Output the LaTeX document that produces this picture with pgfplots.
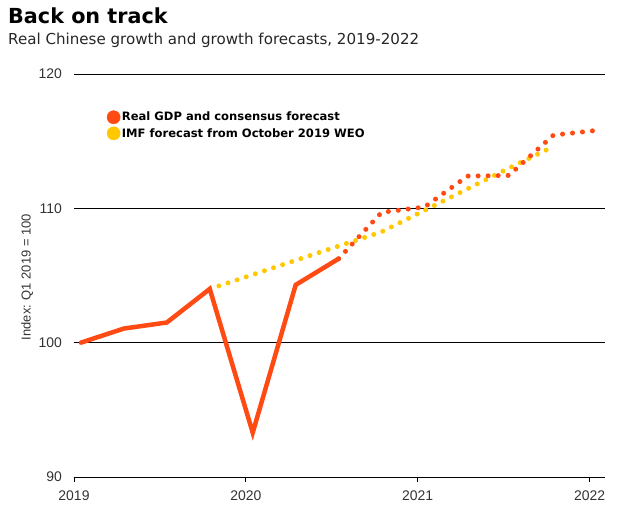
\documentclass[border=0pt]{standalone}
\usepackage{fontspec}
\setmainfont{Liberation Sans}
\newfontfamily\dejavu{DejaVu Sans}
\usepackage{pgfplots}
\pgfplotsset{compat=1.18}
\definecolor{gdpred}{HTML}{FF4A14}
\definecolor{imfyel}{HTML}{FFC800}
\definecolor{ticktxt}{HTML}{333333}

\begin{document}
\begin{tikzpicture}[x=1bp,y=1bp]
\begin{axis}[
  at={(0,0)}, anchor=south west,
  scale only axis, width=531bp, height=403bp,
  xmin=2019, xmax=2022.09, ymin=90, ymax=120,
  axis lines=left,
  axis line style={-},
  y axis line style={draw=none},
  x axis line style={black, line width=0.9bp},
  xtick={2019,2020,2021,2022},
  xticklabels={2019,2020,2021,2022},
  ytick={90,100,110,120},
  xtick align=outside,
  major tick length=5bp,
  ytick style={draw=none},
  xtick style={black, line width=0.8bp},
  ymajorgrids,
  grid style={black, line width=0.9bp},
  /pgf/number format/assume math mode=true,
  tick label style={font=\fontsize{14}{16}\selectfont, color=ticktxt},
  yticklabel style={xshift=-6bp},
  xticklabel style={yshift=-5bp},
  ylabel={Index: Q1 2019 = 100},
  ylabel style={at={(axis description cs:-0.088,0.496)}, anchor=center, font=\fontsize{13}{15}\selectfont, color=ticktxt},
  legend style={draw=none, fill=none, at={(axis cs:2019.19,117.3)}, anchor=north west,
    inner sep=0pt, row sep=2.5bp, font=\dejavu\bfseries\fontsize{11.6}{14}\selectfont,
    nodes={inner xsep=1.5bp, inner ysep=1bp}},
  legend cell align=left,
  clip=false,
]
\addlegendimage{legend image code/.code={\fill[gdpred] (0bp,0bp) circle (6.6bp);}}
\addlegendentry{Real GDP and consensus forecast}
\addlegendimage{legend image code/.code={\fill[imfyel] (0bp,0bp) circle (6.6bp);}}
\addlegendentry{IMF forecast from October 2019 WEO}

% IMF forecast (dotted yellow)
\addplot[forget plot, imfyel, line width=5bp, line cap=round, dash pattern=on 0bp off 9.6bp]
  coordinates {(2019.79,104.0) (2020.04,105.06) (2020.29,106.13) (2020.54,107.19)
    (2020.79,108.25) (2021.04,109.85) (2021.29,111.45) (2021.54,113.05) (2021.79,114.6)};

% Consensus forecast (dotted red)
\addplot[forget plot, gdpred, line width=5bp, line cap=round, dash pattern=on 0bp off 10bp]
  coordinates {(2020.54,106.25) (2020.79,109.7) (2021.04,110.1) (2021.29,112.4)
    (2021.53,112.45) (2021.79,115.45) (2022.04,115.8)};

% Real GDP (solid red)
\addplot[forget plot, gdpred, line width=4.5bp, line cap=round, line join=miter]
  coordinates {(2019.04,100.0) (2019.29,101.05) (2019.54,101.5) (2019.79,104.0)
    (2020.04,93.3) (2020.29,104.3) (2020.54,106.25)};
\end{axis}
\node[anchor=base west, inner sep=0pt, font=\dejavu\bfseries\fontsize{20.8}{24}\selectfont] at (-66,453) {Back on track};
\node[anchor=base west, inner sep=0pt, font=\dejavu\fontsize{15.15}{18}\selectfont, color=black!85] at (-66,432) {Real Chinese growth and growth forecasts, 2019-2022};
\path (-74,-43) rectangle (546,477);
\end{tikzpicture}
\end{document}
